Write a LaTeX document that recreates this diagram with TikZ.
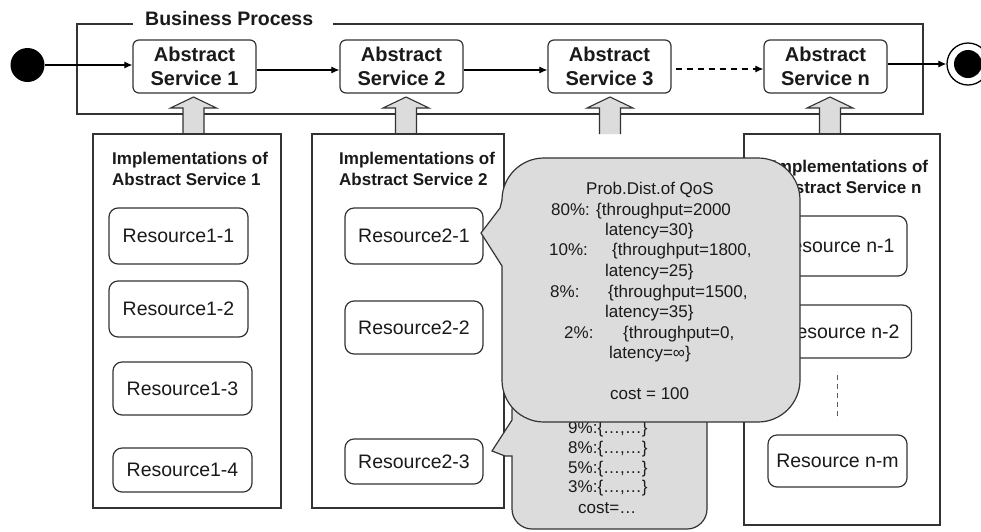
\documentclass[tikz,border=0pt]{standalone}
\usepackage{fontspec}
\setmainfont{Liberation Sans}
\usetikzlibrary{arrows.meta,calc}
\definecolor{ln}{HTML}{333333}
\definecolor{cal}{HTML}{DCDCDC}
\definecolor{tx}{HTML}{1A1A1A}
\begin{document}
\begin{tikzpicture}[x=1pt,y=-1pt,
  frame/.style={draw=ln, line width=1.2pt},
  svc/.style={draw=ln, line width=1.2pt, rounded corners=6pt, minimum width=123pt, minimum height=53pt, align=center, inner sep=0pt, font=\fontsize{20}{24}\selectfont\bfseries, text=tx},
  res/.style={draw=ln, line width=1.2pt, rounded corners=9pt, inner sep=0pt, font=\fontsize{19.5}{23}\selectfont, text=tx},
  implbox/.style={draw=ln, line width=1.2pt, inner sep=0pt},
  head/.style={anchor=base west, inner sep=0pt, font=\fontsize{17}{20}\selectfont\bfseries, text=tx},
  ctext/.style={anchor=base west, inner sep=0pt, font=\fontsize{17}{20}\selectfont, text=tx},
  arr/.style={-{Latex[length=8pt,width=7pt]}, draw=black, line width=1.1pt},
  blk/.style={draw=ln, fill=cal, line width=1.1pt},
  callout/.style={draw=ln, fill=cal, line width=1.2pt},
  uparr/.pic={\path[blk] (-10.5,0) -- (-10.5,-26) -- (-23,-26) -- (0,-37) -- (23,-26) -- (10.5,-26) -- (10.5,0);}
]
\useasboundingbox[fill=white] (0,0) rectangle (981,531);

% business process frame
\draw[frame] (133,24) -- (77,24) -- (77,114) -- (923,114) -- (923,24) -- (333,24);
\node[anchor=base west, inner sep=0pt, font=\fontsize{19.5}{23}\selectfont\bfseries, text=tx] (bp) at (145,25) {Business Process};

% start / end
\node[circle, fill=black, minimum size=34pt, inner sep=0pt] (init) at (27.5,65) {};
\node[circle, draw=black, fill=white, line width=1.3pt, minimum size=42pt, inner sep=0pt] (fin) at (968,64) {};
\node[circle, fill=black, minimum size=28pt, inner sep=0pt] (fincore) at (fin) {};

% abstract services
\node[svc] (as1) at (194.5,66.5) {Abstract\\Service 1};
\node[svc] (as2) at (401.5,66.5) {Abstract\\Service 2};
\node[svc] (as3) at (609.5,66.5) {Abstract\\Service 3};
\node[svc] (asn) at (825.5,66.5) {Abstract\\Service n};

\draw[arr] (init.east) -- (as1.west |- init);
\draw[arr] ([yshift=-3.5pt]as1.east) -- ([yshift=-3.5pt]as2.west);
\draw[arr] ([yshift=-3.5pt]as2.east) -- ([yshift=-3.5pt]as3.west);
\draw[arr, dash pattern=on 6pt off 5pt] ([yshift=-2.5pt,xshift=4pt]as3.east) -- ([yshift=-2.5pt]asn.west);
\draw[arr] (asn.east |- fin) -- (fin.west);

% block arrows
\pic at (193.5,134) {uparr};
\pic at (406,134) {uparr};
\pic at (610,134) {uparr};
\pic at (830,134) {uparr};

% implementation boxes
\node[implbox, minimum width=188pt, minimum height=374pt] (imp1) at (187,321) {};
\node[implbox, minimum width=192pt, minimum height=374pt] (imp2) at (408,321) {};
\node[implbox, minimum width=196pt, minimum height=391pt] (impn) at (842,329.5) {};

\node[head] (h1a) at (112,164) {Implementations of};
\node[head] (h1b) at (112,185) {Abstract Service 1};
\node[head] (h2a) at (339,164) {Implementations of};
\node[head] (h2b) at (339,185) {Abstract Service 2};
\node[head] (hna) at (772,172) {Implementations of};
\node[head] (hnb) at (772,193) {Abstract Service n};

% resources
\node[res, minimum width=139pt, minimum height=56pt] (r11) at (178.5,236) {Resource1-1};
\node[res, minimum width=139pt, minimum height=56pt] (r12) at (178.5,309) {Resource1-2};
\node[res, minimum width=139pt, minimum height=53pt] (r13) at (182.5,388.5) {Resource1-3};
\node[res, minimum width=139pt, minimum height=44pt] (r14) at (182.5,470) {Resource1-4};
\node[res, minimum width=138pt, minimum height=56pt] (r21) at (414,236) {Resource2-1};
\node[res, minimum width=138pt, minimum height=53pt] (r22) at (414,327.5) {Resource2-2};
\node[res, minimum width=138pt, minimum height=45pt] (r23) at (414,461.5) {Resource2-3};
\node[res, minimum width=142pt, minimum height=60pt] (rn1) at (836,246) {Resource n-1};
\node[res, minimum width=141pt, minimum height=53pt] (rn2) at (841,331.5) {Resource n-2};
\node[res, minimum width=139pt, minimum height=52pt] (rnm) at (837.5,461) {Resource n-m};
\coordinate (d1) at (837,375);
\coordinate (d2) at (837,420);
\draw[draw=ln!80, line width=1pt, dash pattern=on 5pt off 4pt] (d1) -- (d2);

% callout 2 (behind)
\draw[callout] (492,451) -- (512,420) -- (513,300) -- (707,300) -- (707,509)
  .. controls (707,520) and (698,529) .. (687,529) -- (532,529)
  .. controls (521,529) and (512,520) .. (512,509) -- (512,456) -- (505,456) -- cycle;
\node[ctext] (c2a) at (568,433) {9\%:\{…,…\}};
\node[ctext] (c2b) at (568,453) {8\%:\{…,…\}};
\node[ctext] (c2c) at (568,473) {5\%:\{…,…\}};
\node[ctext] (c2d) at (568,492) {3\%:\{…,…\}};
\node[ctext] (c2e) at (578,513) {cost=…};

% callout 1 (front)
\draw[callout] (481,233) -- (500,208) -- (502,200)
  .. controls (502,176.8) and (520.8,158) .. (544,158) -- (758,158)
  .. controls (781.2,158) and (800,176.8) .. (800,200) -- (800,380)
  .. controls (800,403.2) and (781.2,422) .. (758,422) -- (544,422)
  .. controls (520.8,422) and (502,403.2) .. (502,380) -- (502,266) -- cycle;
\node[ctext] (t0) at (586,194) {Prob.Dist.of QoS};
\node[ctext] (t1) at (551,215) {80\%: \{throughput=2000};
\node[ctext] (t2) at (605,235) {latency=30\}};
\node[ctext] (t3a) at (549,255) {10\%:};
\node[ctext] (t3b) at (612,255) {\{throughput=1800,};
\node[ctext] (t4) at (605,276) {latency=25\}};
\node[ctext] (t5a) at (550,297) {8\%:};
\node[ctext] (t5b) at (608,297) {\{throughput=1500,};
\node[ctext] (t6) at (605,317) {latency=35\}};
\node[ctext] (t7a) at (564,338) {2\%:};
\node[ctext] (t7b) at (623,338) {\{throughput=0,};
\node[ctext] (t8) at (609,358) {latency=∞\}};
\node[ctext] (t9) at (610,399) {cost = 100};
\end{tikzpicture}
\end{document}
